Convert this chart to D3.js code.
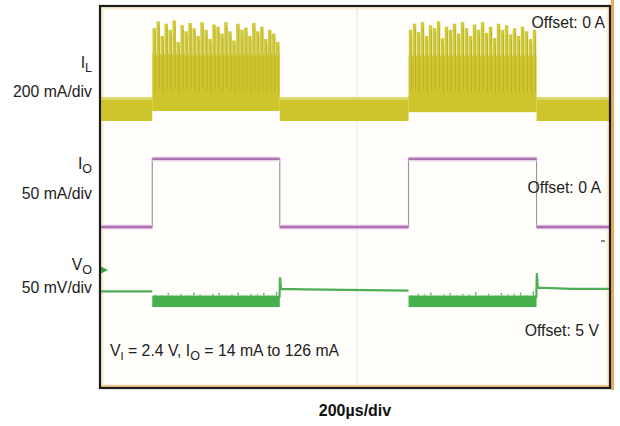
<!DOCTYPE html>
<html><head><meta charset="utf-8">
<script src="https://cdn.jsdelivr.net/npm/d3@7"></script>
<style>
body{margin:0;background:#fff}
svg{display:block;font-family:"Liberation Sans",Arial,Helvetica,sans-serif}
</style></head><body>
<svg id="chart" width="620" height="426"></svg>
<script>
// Time base: 10 horizontal divisions at 200 µs/div
const timeDomain = [0, 2000];          // µs
const centerTime = 1000;               // µs, centre graticule

// Output-current load step (mA) and its edges (µs)
const ioTrace = [[0,14],[205,14],[205,126],[705,126],[705,14],[1210,14],[1210,126],[1712,126],[1712,14],[2000,14]];

// Inductor current envelope segments: [t0, t1, low mA, high mA]
const ilBands = [[0,205,0,158],[205,705,66,440],[705,1210,0,158],[1210,1712,58,432],[1712,2000,0,158]];
// Switching-pulse peaks (mA) during the two heavy-load bursts
const ilPeaks1 = [610,655,560,640,600,662,520,630,590,645,610,560,650,600,540,635,620,575,650,590,530,640,600,615,560,645,590,620,540,600,575,520];
const ilPeaks2 = [600,640,585,650,560,630,610,655,545,620,600,640,575,650,610,560,635,600,650,580,620,545,640,600,630,570,610,560,620,590,540,600];

// Output voltage, deviation from the 5 V offset (mV)
const voLines = [
  [[0,-35],[205,-35]],
  [[704,-46],[706,-12],[710,-31],[800,-32],[1210,-34]],
  [[1711,-46],[1713,-5],[1717,-29],[1850,-31],[2000,-31]]
];
const voBands = [[205,705,-61,-42],[1210,1712,-61,-42]];
const voRipple1 = [-40,-41,-38,-42,-39,-41,-37,-40,-42,-39,-38,-41,-40,-37,-41,-39,-40,-38,-42,-36];
const voRipple2 = [-41,-39,-40,-37,-42,-40,-38,-41,-39,-40,-36,-41,-39,-42,-38,-40,-39,-37,-41,-35];

// Channel labels and annotations
const channelLabels = [
  {main:"I", sub:"L", scale:"200 mA/div"},
  {main:"I", sub:"O", scale:"50 mA/div"},
  {main:"V", sub:"O", scale:"50 mV/div"}
];
const offsetLabels = ["Offset: 0 A", "Offset: 0 A", "Offset: 5 V"];
const conditionText = {v:"V", vSub:"I", a:" = 2.4 V, I", aSub:"O", b:" = 14 mA to 126 mA"};
const timeLabel = "200\u00B5s/div";

const svg = d3.select("#chart");
const plot = {x0:100, x1:610, y0:6, y1:388};
const divPx = 30.4; // vertical pixels per division

const x = d3.scaleLinear().domain(timeDomain).range([plot.x0, plot.x1]);
// per-channel vertical scales: value -> px, from each channel's ground level
const yIL = d3.scaleLinear().domain([0, 200]).range([121, 121 - divPx]);
const yIO = d3.scaleLinear().domain([0, 50]).range([235.5, 235.5 - divPx]);
const yVO = d3.scaleLinear().domain([0, 50]).range([270, 270 - divPx]);

// screen background
svg.append("rect").attr("x",plot.x0).attr("y",plot.y0)
  .attr("width",plot.x1-plot.x0).attr("height",plot.y1-plot.y0)
  .attr("fill","#fffefb");
svg.append("rect").attr("x",plot.x0+2).attr("y",plot.y0+2)
  .attr("width",plot.x1-plot.x0-4).attr("height",plot.y1-plot.y0-4)
  .attr("fill","none").attr("stroke","#fcecd2").attr("stroke-width",3);

const g = svg.append("g");
// centre graticule line
g.append("line").attr("x1",x(centerTime)+2).attr("x2",x(centerTime)+2)
  .attr("y1",plot.y0).attr("y2",plot.y1).attr("stroke","#e2e2e2").attr("stroke-width",1);

// ---- IL trace ----
g.selectAll("rect.il").data(ilBands).join("rect").attr("class","il")
  .attr("x",d=>x(d[0])).attr("width",d=>x(d[1])-x(d[0]))
  .attr("y",d=>yIL(d[3])).attr("height",d=>yIL(d[2])-yIL(d[3]))
  .attr("fill","#cdc52b");
// lighter pulse tops on the light-load bands
ilBands.filter(d=>d[2]===0).forEach(d=>{
  g.append("rect").attr("x",x(d[0])).attr("width",x(d[1])-x(d[0]))
    .attr("y",yIL(d[3])).attr("height",3).attr("fill","#dcd66c");
});
function drawPeaks(peaks, band){
  const [t0,t1,lo,hi] = band;
  const step = (t1-t0)/peaks.length;
  const w = (x(t0+step)-x(t0))*0.88;
  peaks.forEach((p,i)=>{
    const t = t0 + (i+0.5)*step;
    g.append("line").attr("x1",x(t)).attr("x2",x(t))
      .attr("y1",yIL(hi)+2).attr("y2",yIL(p))
      .attr("stroke","#d0c93c").attr("stroke-width",w);
    g.append("line").attr("x1",x(t)+1).attr("x2",x(t)+1)
      .attr("y1",yIL(lo+(p-lo)*0.25)).attr("y2",yIL(p*0.95))
      .attr("stroke","#a39b1c").attr("stroke-width",0.8).attr("opacity",0.5);
  });
}
drawPeaks(ilPeaks1, ilBands[1]);
drawPeaks(ilPeaks2, ilBands[3]);

// ---- IO trace ----
const ioLine = d3.line().x(d=>x(d[0])).y(d=>yIO(d[1]));
g.append("path").attr("d",ioLine(ioTrace)).attr("fill","none")
  .attr("stroke","#9a9a9a").attr("stroke-width",1.2);
// horizontal runs in channel colour
const ioRuns = [];
for (let i=0;i<ioTrace.length-1;i++){
  if (ioTrace[i][1]===ioTrace[i+1][1]) ioRuns.push([ioTrace[i],ioTrace[i+1]]);
}
g.selectAll("path.iohalo").data(ioRuns).join("path").attr("class","iohalo")
  .attr("d",ioLine).attr("fill","none").attr("stroke","#ecd3ec").attr("stroke-width",5);
g.selectAll("path.io").data(ioRuns).join("path").attr("class","io")
  .attr("d",ioLine).attr("fill","none").attr("stroke","#aa72ae").attr("stroke-width",2.4);

// ---- VO trace ----
const voLine = d3.line().x(d=>x(d[0])).y(d=>yVO(d[1]));
g.selectAll("rect.vo").data(voBands).join("rect").attr("class","vo")
  .attr("x",d=>x(d[0])).attr("width",d=>x(d[1])-x(d[0]))
  .attr("y",d=>yVO(d[3])).attr("height",d=>yVO(d[2])-yVO(d[3]))
  .attr("fill","#45b04c");
function drawRipple(vals, band){
  const [t0,t1,lo,hi] = band;
  const step = (t1-t0)/vals.length;
  vals.forEach((v,i)=>{
    const t = t0 + (i+0.5)*step;
    g.append("line").attr("x1",x(t)).attr("x2",x(t))
      .attr("y1",yVO(hi)).attr("y2",yVO(v))
      .attr("stroke","#5cb85f").attr("stroke-width",1.4);
  });
}
drawRipple(voRipple1, voBands[0]);
drawRipple(voRipple2, voBands[1]);
g.selectAll("path.vo").data(voLines).join("path").attr("class","vo")
  .attr("d",voLine).attr("fill","none").attr("stroke","#4fae55").attr("stroke-width",2.2);
// channel ground marker
g.append("path").attr("d",`M${plot.x0},${yVO(0)-4}L${plot.x0+8},${yVO(0)}L${plot.x0},${yVO(0)+4}Z`)
  .attr("fill","#3da246");
// small reference marker near the right edge
g.append("line").attr("x1",plot.x1-9).attr("x2",plot.x1-5).attr("y1",241).attr("y2",241)
  .attr("stroke","#888").attr("stroke-width",2);

// ---- frame ----
svg.append("rect").attr("x",plot.x1+1).attr("y",0).attr("width",3).attr("height",plot.y1+2)
  .attr("fill","#e9ad5a");
svg.append("rect").attr("x",plot.x0).attr("y",plot.y1-3).attr("width",plot.x1-plot.x0).attr("height",2)
  .attr("fill","#f1c788");
svg.append("rect").attr("x",plot.x0).attr("y",plot.y0)
  .attr("width",plot.x1-plot.x0).attr("height",plot.y1-plot.y0)
  .attr("fill","none").attr("stroke","#1b1b1b").attr("stroke-width",2.2);

// ---- text ----
const fs = 15.8;
const labelY = [[68,97],[169,199],[270,293]];
channelLabels.forEach((c,i)=>{
  const t = svg.append("text").attr("x",92).attr("y",labelY[i][0]).attr("text-anchor","end")
    .attr("font-size",fs).attr("fill","#222");
  t.append("tspan").text(c.main);
  t.append("tspan").attr("dy",4).attr("font-size",12.5).text(c.sub);
  svg.append("text").attr("x",92).attr("y",labelY[i][1]).attr("text-anchor","end")
    .attr("font-size",fs).attr("fill","#222").text(c.scale);
});
const offPos = [[605,28],[601,193],[599,336]];
offsetLabels.forEach((s,i)=>{
  svg.append("text").attr("x",offPos[i][0]).attr("y",offPos[i][1]).attr("text-anchor","end")
    .attr("font-size",fs).attr("fill","#222").text(s);
});
const ct = svg.append("text").attr("x",110).attr("y",356).attr("font-size",fs).attr("fill","#222");
ct.append("tspan").text(conditionText.v);
ct.append("tspan").attr("dy",4).attr("font-size",11).text(conditionText.vSub);
ct.append("tspan").attr("dy",-4).text(conditionText.a);
ct.append("tspan").attr("dy",4).attr("font-size",12.5).text(conditionText.aSub);
ct.append("tspan").attr("dy",-4).text(conditionText.b);

svg.append("text").attr("x",355).attr("y",416).attr("text-anchor","middle")
  .attr("font-size",16).attr("font-weight","bold").attr("fill","#111").text(timeLabel);
</script>
</body></html>
